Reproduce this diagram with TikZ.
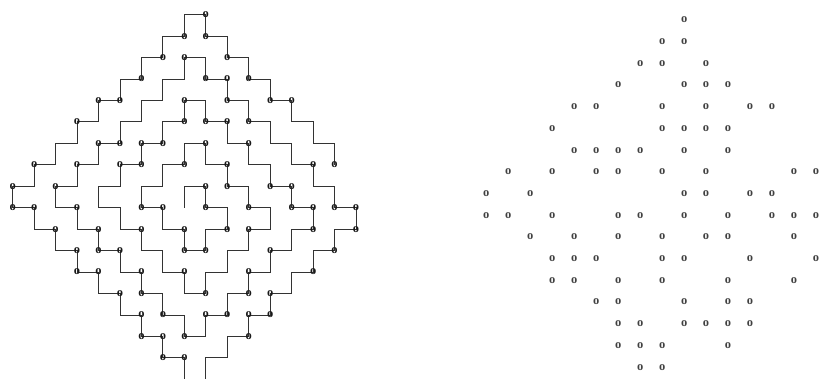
\documentclass[tikz,border=0pt]{standalone}
\usepackage{fontspec}
\setmainfont{Liberation Serif}

\begin{document}
\begin{tikzpicture}[
    x=1pt, y=-1pt,
    lane/.style={draw=black!80, line width=1pt, line join=miter},
    dot/.style={inner sep=0pt, text=black!90, font=\fontsize{12.5}{12.5}\selectfont\bfseries},
    ghost/.style={inner sep=0pt, text=black!75, font=\fontsize{12.5}{12.5}\selectfont\bfseries},
]
\useasboundingbox (0,0) rectangle (832,379);

% corner points of the left figure
\foreach \i in {0,...,16}
  \foreach \j in {0,...,17}
    \coordinate (g-\i-\j) at ({12.7+21.46*\i}, {14.7+21.45*\j});

% outer staircase
\draw[lane] (g-15-7) -- (g-15-6) -- (g-14-6) -- (g-14-5) -- (g-13-5) -- (g-13-4) -- (g-12-4) -- (g-12-3)
  -- (g-11-3) -- (g-11-2) -- (g-10-2) -- (g-10-1) -- (g-9-1) -- (g-9-0) -- (g-8-0) -- (g-8-1)
  -- (g-7-1) -- (g-7-2) -- (g-6-2) -- (g-6-3) -- (g-5-3) -- (g-5-4) -- (g-4-4) -- (g-4-5)
  -- (g-3-5) -- (g-3-6) -- (g-2-6) -- (g-2-7) -- (g-1-7) -- (g-1-8) -- (g-0-8) -- (g-0-9)
  -- (g-1-9) -- (g-1-10) -- (g-2-10) -- (g-2-11) -- (g-3-11) -- (g-3-12) -- (g-4-12) -- (g-4-13)
  -- (g-5-13) -- (g-5-14) -- (g-6-14) -- (g-6-15) -- (g-7-15) -- (g-7-16) -- (g-8-16) -- (g-8-17);

% winding path, from the bottom into the centre
\draw[lane] (g-9-17) -- (g-9-16) -- (g-10-16) -- (g-10-15) -- (g-11-15) -- (g-11-14) -- (g-12-14) -- (g-12-13)
  -- (g-13-13) -- (g-13-12) -- (g-14-12) -- (g-14-11) -- (g-15-11) -- (g-15-10) -- (g-16-10) -- (g-16-9)
  -- (g-15-9) -- (g-15-8) -- (g-14-8) -- (g-14-7) -- (g-13-7) -- (g-13-6) -- (g-12-6) -- (g-12-5)
  -- (g-11-5) -- (g-11-4) -- (g-10-4) -- (g-10-3) -- (g-9-3) -- (g-9-2) -- (g-8-2) -- (g-8-3)
  -- (g-7-3) -- (g-7-4) -- (g-6-4) -- (g-6-5) -- (g-5-5) -- (g-5-6) -- (g-4-6) -- (g-4-7)
  -- (g-3-7) -- (g-3-8) -- (g-2-8) -- (g-2-9) -- (g-3-9) -- (g-3-10) -- (g-4-10) -- (g-4-11)
  -- (g-5-11) -- (g-5-12) -- (g-6-12) -- (g-6-13) -- (g-7-13) -- (g-7-14) -- (g-8-14) -- (g-8-15)
  -- (g-9-15) -- (g-9-14) -- (g-10-14) -- (g-10-13) -- (g-11-13) -- (g-11-12) -- (g-12-12) -- (g-12-11)
  -- (g-13-11) -- (g-13-10) -- (g-14-10) -- (g-14-9) -- (g-13-9) -- (g-13-8) -- (g-12-8) -- (g-12-7)
  -- (g-11-7) -- (g-11-6) -- (g-10-6) -- (g-10-5) -- (g-9-5) -- (g-9-4) -- (g-8-4) -- (g-8-5)
  -- (g-7-5) -- (g-7-6) -- (g-6-6) -- (g-6-7) -- (g-5-7) -- (g-5-8) -- (g-4-8) -- (g-4-9)
  -- (g-5-9) -- (g-5-10) -- (g-6-10) -- (g-6-11) -- (g-7-11) -- (g-7-12) -- (g-8-12) -- (g-8-13)
  -- (g-9-13) -- (g-9-12) -- (g-10-12) -- (g-10-11) -- (g-11-11) -- (g-11-10) -- (g-12-10) -- (g-12-9)
  -- (g-11-9) -- (g-11-8) -- (g-10-8) -- (g-10-7) -- (g-9-7) -- (g-9-6) -- (g-8-6) -- (g-8-7)
  -- (g-7-7) -- (g-7-8) -- (g-6-8) -- (g-6-9) -- (g-7-9) -- (g-7-10) -- (g-8-10) -- (g-8-11)
  -- (g-9-11) -- (g-9-10) -- (g-10-10) -- (g-10-9) -- (g-9-9) -- (g-9-8) -- (g-8-8) -- (g-8-9);

% marks: on the corners (left) and alone (right)
\foreach \j/\cols in {0/{9}, 1/{8,9}, 2/{7,8,10}, 3/{6,9,10,11}, 4/{4,5,8,10,12,13},
    5/{3,8,9,10,11}, 6/{4,5,6,7,9,11}, 7/{1,3,5,6,8,10,14,15}, 8/{0,2,9,10,12,13},
    9/{0,1,3,6,7,9,11,13,14,15,16}, 10/{2,4,6,8,10,11,14,16}, 11/{3,4,5,8,9,12,15},
    12/{3,4,6,8,11,14}, 13/{5,6,9,11,12}, 14/{6,7,9,10,11,12}, 15/{6,7,8,11}, 16/{7,8}} {
  \foreach \i in \cols {
    \node[dot] (o-\i-\j) at (g-\i-\j) {o};
    \ifnum\i<16
      \node[ghost] (r-\i-\j) at ({486.3+21.98*\i}, {20+21.7*\j}) {o};
    \fi
  }
}

\end{tikzpicture}
\end{document}
